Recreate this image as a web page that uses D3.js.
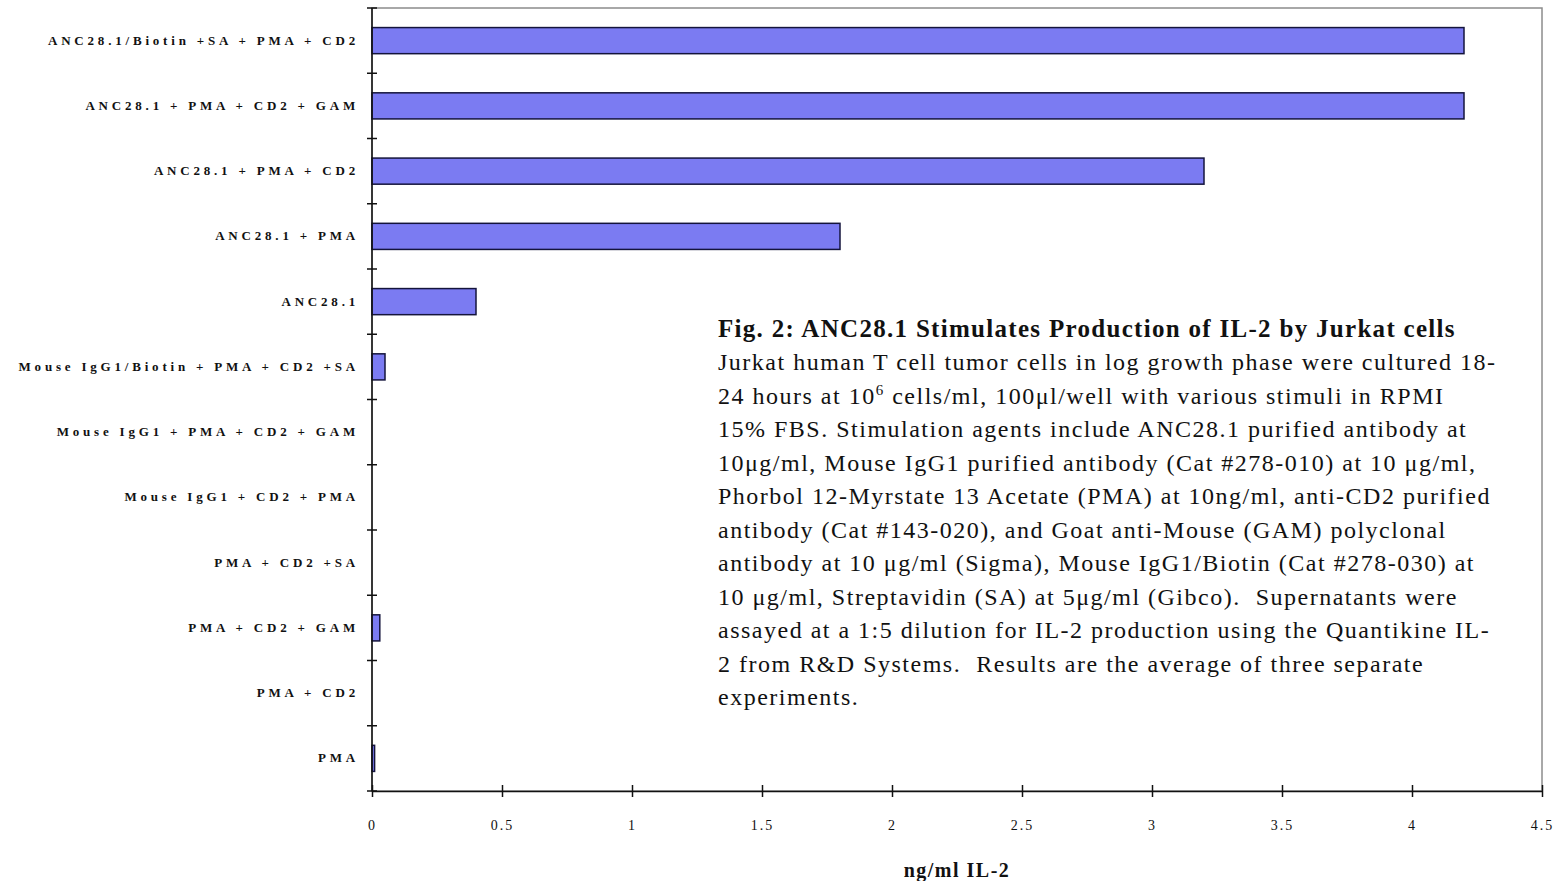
<!DOCTYPE html>
<html>
<head>
<meta charset="utf-8">
<script src="https://cdn.jsdelivr.net/npm/d3@7"></script>
<style>
  body { margin: 0; background: #fff; }
</style>
</head>
<body>
<div id="chart"></div>
<script>
const categories = [
  'ANC28.1/Biotin +SA + PMA + CD2',
  'ANC28.1 + PMA + CD2 + GAM',
  'ANC28.1 + PMA + CD2',
  'ANC28.1 + PMA',
  'ANC28.1',
  'Mouse IgG1/Biotin + PMA + CD2 +SA',
  'Mouse IgG1 + PMA + CD2 + GAM',
  'Mouse IgG1 + CD2 + PMA',
  'PMA + CD2 +SA',
  'PMA + CD2 + GAM',
  'PMA + CD2',
  'PMA'
];
const values = [4.2, 4.2, 3.2, 1.8, 0.4, 0.05, 0, 0, 0, 0.03, 0, 0.01];
const xTicks = [0, 0.5, 1, 1.5, 2, 2.5, 3, 3.5, 4, 4.5];
const xTitle = 'ng/ml IL-2';
const noteTitle = 'Fig. 2: ANC28.1 Stimulates Production of IL-2 by Jurkat cells';
const noteLines = [
  'Jurkat human T cell tumor cells in log growth phase were cultured 18-',
  '24 hours at 10^6 cells/ml, 100μl/well with various stimuli in RPMI',
  '15% FBS. Stimulation agents include ANC28.1 purified antibody at',
  '10μg/ml, Mouse IgG1 purified antibody (Cat #278-010) at 10 μg/ml,',
  'Phorbol 12-Myrstate 13 Acetate (PMA) at 10ng/ml, anti-CD2 purified',
  'antibody (Cat #143-020), and Goat anti-Mouse (GAM) polyclonal',
  'antibody at 10 μg/ml (Sigma), Mouse IgG1/Biotin (Cat #278-030) at',
  '10 μg/ml, Streptavidin (SA) at 5μg/ml (Gibco).  Supernatants were',
  'assayed at a 1:5 dilution for IL-2 production using the Quantikine IL-',
  '2 from R&D Systems.  Results are the average of three separate',
  'experiments.'
];

const W = 1562, H = 881;
const margin = { top: 8, right: 20, bottom: 90, left: 372 };
const iw = W - margin.left - margin.right;
const ih = H - margin.top - margin.bottom;

const svg = d3.select('#chart').append('svg')
  .attr('width', W).attr('height', H)
  .style('font-family', '"Liberation Serif", "Times New Roman", serif');

const g = svg.append('g').attr('transform', `translate(${margin.left},${margin.top})`);

const x = d3.scaleLinear().domain([0, 4.5]).range([0, iw]);
const y = d3.scaleBand().domain(categories).range([0, ih])
  .paddingInner(0.6).paddingOuter(0.3);

// plot area border (grey)
g.append('rect')
  .attr('x', 0).attr('y', 0).attr('width', iw).attr('height', ih)
  .attr('fill', 'none').attr('stroke', '#8c8c8c').attr('stroke-width', 1.5);

// bars
g.selectAll('.bar')
  .data(values)
  .enter()
  .append('rect')
  .attr('class', 'bar')
  .attr('x', x(0))
  .attr('y', (d, i) => y(categories[i]))
  .attr('width', d => x(d) - x(0))
  .attr('height', y.bandwidth())
  .attr('fill', d => d > 0 ? '#7b7bf2' : 'none')
  .attr('stroke', d => d > 0 ? '#14143c' : 'none')
  .attr('stroke-width', 1.5);

// y axis: line + crossing ticks on band boundaries
const yAxis = g.append('g');
yAxis.append('line')
  .attr('x1', 0).attr('x2', 0).attr('y1', 0).attr('y2', ih)
  .attr('stroke', '#111').attr('stroke-width', 1.5);
const bounds = d3.range(categories.length + 1).map(i => i * y.step());
yAxis.selectAll('.ytick')
  .data(bounds)
  .enter()
  .append('line')
  .attr('x1', -5).attr('x2', 5)
  .attr('y1', d => d).attr('y2', d => d)
  .attr('stroke', '#111').attr('stroke-width', 1.5);
yAxis.selectAll('.ylab')
  .data(categories)
  .enter()
  .append('text')
  .attr('x', -13)
  .attr('y', d => y(d) + y.bandwidth() / 2)
  .attr('dy', '0.3em')
  .attr('text-anchor', 'end')
  .attr('font-size', 13)
  .attr('font-weight', 'bold')
  .style('letter-spacing', '3.8px')
  .attr('fill', '#111')
  .text(d => d);

// x axis
const xAxis = g.append('g').attr('transform', `translate(0,${ih})`)
  .call(d3.axisBottom(x).tickValues(xTicks).tickSize(0).tickPadding(0).tickFormat(d3.format('')));
xAxis.select('.domain').attr('stroke', '#111').attr('stroke-width', 1.5);
xAxis.selectAll('.tick line')
  .attr('y1', -6).attr('y2', 6)
  .attr('stroke', '#111').attr('stroke-width', 1.5);
xAxis.selectAll('.tick text')
  .attr('y', 39)
  .attr('dy', 0)
  .attr('font-size', 14)
  .attr('font-family', '"Liberation Serif", serif')
  .style('letter-spacing', '2px')
  .attr('fill', '#111');

svg.append('text')
  .attr('x', margin.left + iw / 2)
  .attr('y', 877)
  .attr('text-anchor', 'middle')
  .attr('font-size', 20)
  .attr('font-weight', 'bold')
  .style('letter-spacing', '1.5px')
  .attr('fill', '#111')
  .text(xTitle);

// caption block
const note = svg.append('g').attr('transform', 'translate(718,0)');
note.append('text')
  .attr('x', 0).attr('y', 337)
  .attr('font-size', 25)
  .attr('font-weight', 'bold')
  .style('letter-spacing', '1.3px')
  .attr('fill', '#111')
  .text(noteTitle);

noteLines.forEach((line, i) => {
  const t = note.append('text')
    .attr('x', 0).attr('y', 370 + i * 33.5)
    .attr('font-size', 24)
    .style('letter-spacing', '1.5px')
    .style('white-space', 'pre')
    .attr('fill', '#111');
  const parts = line.split('^6');
  if (parts.length > 1) {
    t.append('tspan').text(parts[0]);
    t.append('tspan').attr('font-size', 15).attr('dy', -9).text('6');
    t.append('tspan').attr('dy', 9).text(parts[1]);
  } else {
    t.text(line);
  }
});
</script>
</body>
</html>
